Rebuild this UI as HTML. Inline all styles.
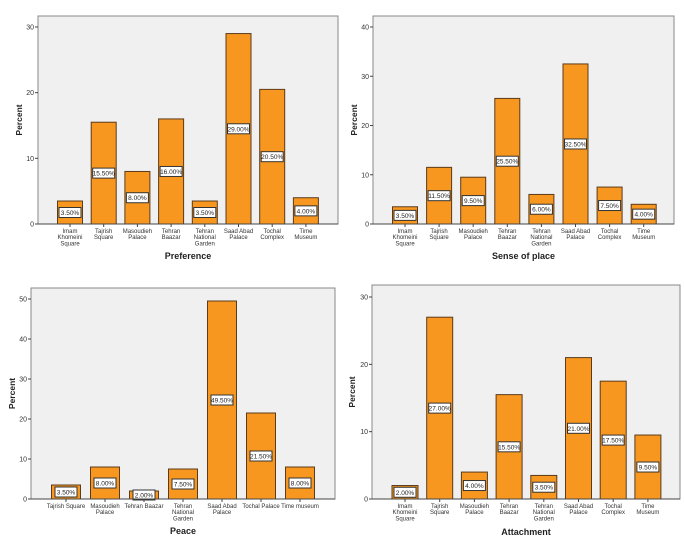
<!DOCTYPE html>
<html><head><meta charset="utf-8"><style>
body{margin:0;background:#fff;width:685px;height:544px;overflow:hidden}
svg{display:block;font-family:"Liberation Sans",sans-serif}
</style></head><body>
<svg id="c" width="685" height="544"></svg>
<script>
const prefCats=[["Imam","Khomeini","Square"],["Tajrish","Square"],["Masoudieh","Palace"],["Tehran","Baazar"],["Tehran","National","Garden"],["Saad Abad","Palace"],["Tochal","Complex"],["Time","Museum"]];
const prefVals=[3.5,15.5,8,16,3.5,29,20.5,4];
const prefTicks=[0,10,20,30];
const sopCats=prefCats;
const sopVals=[3.5,11.5,9.5,25.5,6,32.5,7.5,4];
const sopTicks=[0,10,20,30,40];
const peaceCats=[["Tajrish Square"],["Masoudieh","Palace"],["Tehran Baazar"],["Tehran","National","Garden"],["Saad Abad","Palace"],["Tochal Palace"],["Time museum"]];
const peaceVals=[3.5,8,2,7.5,49.5,21.5,8];
const peaceTicks=[0,10,20,30,40,50];
const attCats=prefCats;
const attVals=[2,27,4,15.5,3.5,21,17.5,9.5];
const attTicks=[0,10,20,30];

const NS="http://www.w3.org/2000/svg";
const svg=document.getElementById('c');
function mk(tag,attrs,parent,text){const e=document.createElementNS(NS,tag);for(const k in attrs)e.setAttribute(k,attrs[k]);if(text!==undefined)e.textContent=text;parent.appendChild(e);return e;}

function panel(name,p,cats,vals,ticks,title){
  const g=mk('g',{},svg);
  
  
  const maxT=ticks[ticks.length-1];
  const y=v=>p.y0-(v/maxT)*(p.y0-p.yTop);
  const x=i=>p.c0+i*p.step;
  const bg=mk('rect',{x:p.left,y:p.top,width:p.right-p.left,height:p.y0-p.top,fill:'#f0f0f0',stroke:'#888','stroke-width':1},g);
  
  
  ticks.forEach(t=>{
    mk('line',{x1:p.left-3,x2:p.left,y1:y(t),y2:y(t),stroke:'#444'},g);
    const tl=mk('text',{x:p.left-4,y:y(t)+2.5,'font-size':7,'text-anchor':'end',fill:'#333'},g,String(t));
    
    
  });
  vals.forEach((v,i)=>{
    const cx=x(i);
    const b=mk('rect',{x:cx-p.bw/2,y:y(v),width:p.bw,height:p.y0-y(v),fill:'#f7971f',stroke:'#5b3b1b','stroke-width':1},g);
    
    
    const lab=v.toFixed(2)+'%';
    const ly=y(v/2);
    const lb=mk('rect',{x:cx-11,y:ly-5,width:22,height:10,fill:'#fff',stroke:'#333','stroke-width':1},g);
    
    
    const lt=mk('text',{x:cx,y:ly+2.5,'font-size':6.5,'text-anchor':'middle',fill:'#222'},g,lab);
    
    
    mk('line',{x1:cx,x2:cx,y1:p.y0,y2:p.y0+3,stroke:'#444'},g);
    cats[i].forEach((ln,j)=>{
      const ct=mk('text',{x:cx,y:p.y0+9+j*6.2,'font-size':6,'text-anchor':'middle',fill:'#333'},g,ln);
      
      
    });
  });
  mk('line',{x1:p.left,x2:p.right,y1:p.y0,y2:p.y0,stroke:'#444'},g);
  const xt=mk('text',{x:(p.left+p.right)/2,y:p.titleY,'font-size':9,'font-weight':'bold','text-anchor':'middle',fill:'#222'},g,title);
  
  
  const yt=mk('text',{x:0,y:0,'font-size':8.5,'font-weight':'bold','text-anchor':'middle',fill:'#222',transform:`translate(${p.yx},${(p.top+p.y0)/2}) rotate(-90)`},g,'Percent');
  
  
}
panel('preference',{left:38,right:338,top:16,y0:224,yTop:27,c0:70,step:33.7,bw:25,titleY:259,yx:22},prefCats,prefVals,prefTicks,'Preference');
panel('sense-of-place',{left:373,right:674,top:16,y0:224,yTop:27,c0:405,step:34.1,bw:25,titleY:259,yx:357},sopCats,sopVals,sopTicks,'Sense of place');
panel('peace',{left:31,right:335,top:288,y0:499,yTop:299,c0:66,step:39,bw:29,titleY:534,yx:15},peaceCats,peaceVals,peaceTicks,'Peace');
panel('attachment',{left:372,right:680,top:285,y0:499,yTop:297,c0:405,step:34.7,bw:26,titleY:535,yx:355},attCats,attVals,attTicks,'Attachment');
</script>
</body></html>
